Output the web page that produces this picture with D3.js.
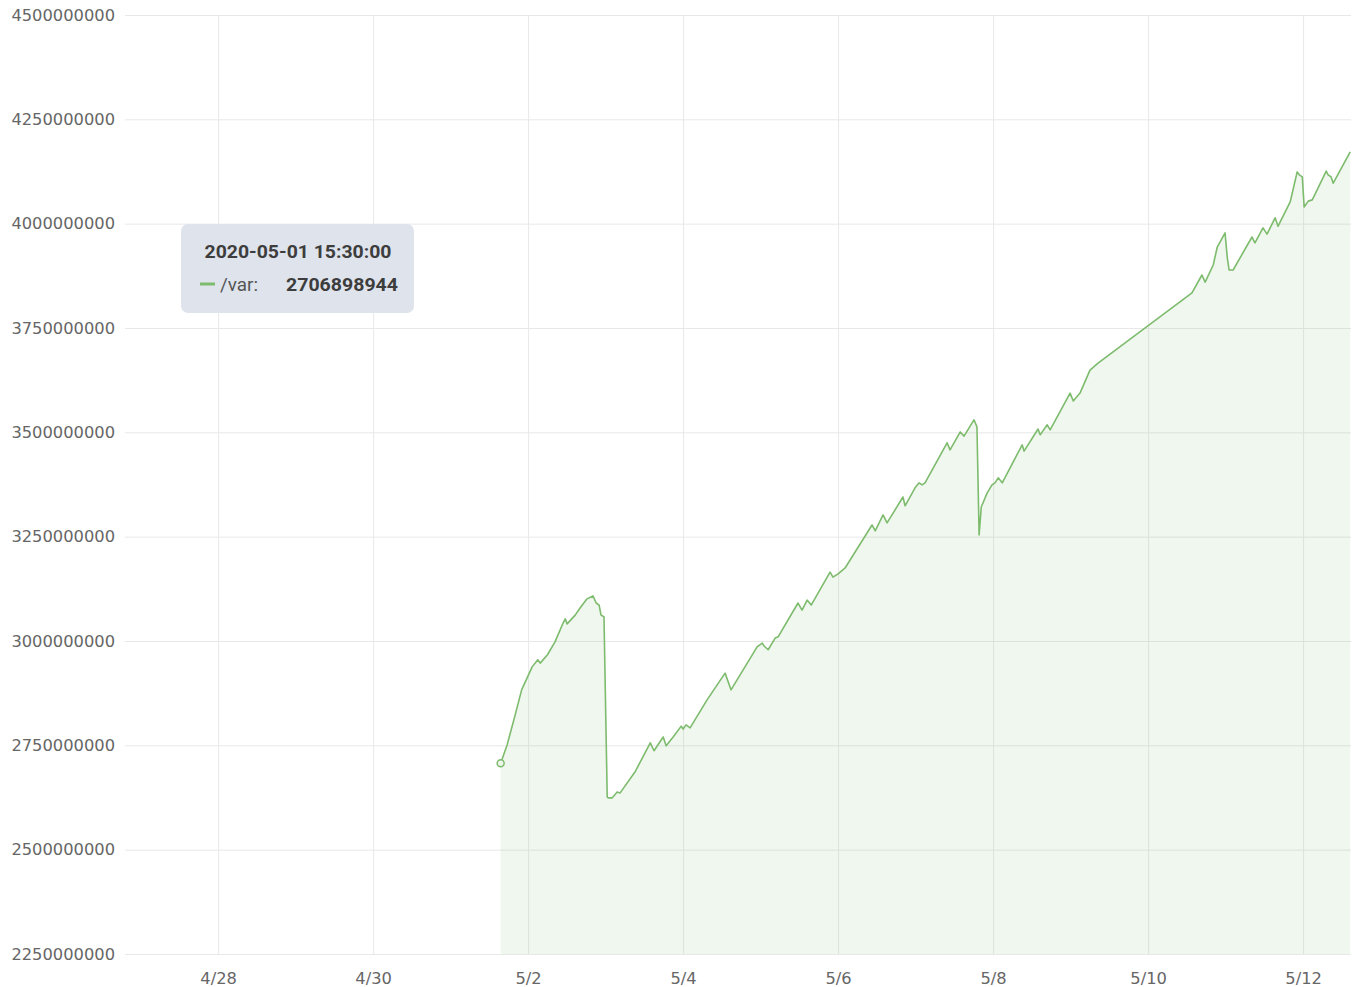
<!DOCTYPE html>
<html>
<head>
<meta charset="utf-8">
<script src="https://cdn.jsdelivr.net/npm/d3@7"></script>
<style>
  body { margin: 0; background: #fff; }
  svg { display: block; }
</style>
</head>
<body>
<svg id="chart" width="1360" height="987"></svg>
<script>
// disk usage of /var
const times = [
  "2020-05-01 15:30", "2020-05-01 17:30", "2020-05-01 20:00", "2020-05-01 22:00",
  "2020-05-02 01:15", "2020-05-02 03:00", "2020-05-02 03:45", "2020-05-02 06:00",
  "2020-05-02 08:20", "2020-05-02 10:50", "2020-05-02 11:30", "2020-05-02 12:05",
  "2020-05-02 14:35", "2020-05-02 16:05", "2020-05-02 18:15", "2020-05-02 20:05",
  "2020-05-02 21:05", "2020-05-02 22:00", "2020-05-02 22:35", "2020-05-02 23:30",
  "2020-05-03 00:30", "2020-05-03 00:50", "2020-05-03 02:00", "2020-05-03 03:35",
  "2020-05-03 04:30", "2020-05-03 09:05", "2020-05-03 13:50", "2020-05-03 15:00",
  "2020-05-03 17:50", "2020-05-03 18:45", "2020-05-03 20:55", "2020-05-03 23:25",
  "2020-05-04 00:00", "2020-05-04 00:55", "2020-05-04 02:10", "2020-05-04 07:25",
  "2020-05-04 13:00", "2020-05-04 14:50", "2020-05-04 22:55", "2020-05-05 00:30",
  "2020-05-05 01:05", "2020-05-05 02:20", "2020-05-05 04:30", "2020-05-05 05:25",
  "2020-05-05 11:35", "2020-05-05 12:50", "2020-05-05 14:25", "2020-05-05 15:40",
  "2020-05-05 21:30", "2020-05-05 22:25", "2020-05-06 00:00", "2020-05-06 02:10",
  "2020-05-06 10:30", "2020-05-06 11:30", "2020-05-06 13:55", "2020-05-06 15:10",
  "2020-05-06 20:05", "2020-05-06 20:45", "2020-05-06 23:50", "2020-05-07 01:05",
  "2020-05-07 02:00", "2020-05-07 02:55", "2020-05-07 09:45", "2020-05-07 10:40",
  "2020-05-07 13:50", "2020-05-07 15:00", "2020-05-07 18:05", "2020-05-07 19:00",
  "2020-05-07 19:40", "2020-05-07 20:20", "2020-05-07 22:10", "2020-05-07 23:40",
  "2020-05-08 00:35", "2020-05-08 01:35", "2020-05-08 02:50", "2020-05-08 09:00",
  "2020-05-08 09:35", "2020-05-08 13:55", "2020-05-08 14:35", "2020-05-08 16:45",
  "2020-05-08 17:40", "2020-05-08 23:50", "2020-05-09 00:50", "2020-05-09 02:55",
  "2020-05-09 06:00", "2020-05-09 08:30", "2020-05-10 13:35", "2020-05-10 16:40",
  "2020-05-10 17:40", "2020-05-10 20:10", "2020-05-10 21:25", "2020-05-10 23:50",
  "2020-05-11 00:30", "2020-05-11 01:05", "2020-05-11 02:20", "2020-05-11 08:10",
  "2020-05-11 09:05", "2020-05-11 11:35", "2020-05-11 12:50", "2020-05-11 15:20",
  "2020-05-11 16:15", "2020-05-11 20:00", "2020-05-11 22:10", "2020-05-11 22:50",
  "2020-05-11 23:45", "2020-05-12 00:20", "2020-05-12 01:35", "2020-05-12 02:50",
  "2020-05-12 07:10", "2020-05-12 07:45", "2020-05-12 08:40", "2020-05-12 09:20",
  "2020-05-12 14:35"
];
const values = [
  2706898944, 2751000000, 2823000000, 2883000000,
  2938000000, 2955000000, 2947000000, 2967000000,
  2998000000, 3043000000, 3053000000, 3041000000,
  3062000000, 3079000000, 3101000000, 3108000000,
  3091000000, 3086000000, 3062000000, 3058000000,
  2626000000, 2624000000, 2624000000, 2638000000,
  2636000000, 2686000000, 2756000000, 2737000000,
  2770000000, 2749000000, 2770000000, 2796000000,
  2789000000, 2799000000, 2792000000, 2859000000,
  2923000000, 2883000000, 2986000000, 2995000000,
  2988000000, 2979000000, 3007000000, 3010000000,
  3091000000, 3074000000, 3098000000, 3086000000,
  3165000000, 3153000000, 3161000000, 3175000000,
  3278000000, 3264000000, 3302000000, 3283000000,
  3345000000, 3324000000, 3367000000, 3379000000,
  3374000000, 3379000000, 3475000000, 3458000000,
  3501000000, 3491000000, 3530000000, 3513000000,
  3254000000, 3321000000, 3355000000, 3374000000,
  3379000000, 3391000000, 3379000000, 3470000000,
  3455000000, 3508000000, 3494000000, 3518000000,
  3506000000, 3594000000, 3575000000, 3594000000,
  3649000000, 3666000000, 3834000000, 3877000000,
  3860000000, 3901000000, 3944000000, 3978000000,
  3920000000, 3889000000, 3889000000, 3968000000,
  3954000000, 3990000000, 3975000000, 4014000000,
  3994000000, 4052000000, 4124000000, 4117000000,
  4112000000, 4040000000, 4054000000, 4057000000,
  4126000000, 4117000000, 4112000000, 4097000000,
  4172000000
];

const xTickDates = ["2020-04-28", "2020-04-30", "2020-05-02", "2020-05-04",
                    "2020-05-06", "2020-05-08", "2020-05-10", "2020-05-12"];
const yTicks = [2250000000, 2500000000, 2750000000, 3000000000, 3250000000,
                3500000000, 3750000000, 4000000000, 4250000000, 4500000000];
const xDomain = ["2020-04-26 19:10", "2020-05-12 14:50"];

const tipTime = "2020-05-01 15:30:00";
const tipLabel = "/var:";
const tipValue = "2706898944";

const parseTime = d3.timeParse("%Y-%m-%d %H:%M");
const parseDay = d3.timeParse("%Y-%m-%d");

const data = times.map((t, i) => ({ date: parseTime(t), value: values[i] }));

const svg = d3.select("#chart");
const margin = { top: 15, right: 9, bottom: 33, left: 125 };
const width = +svg.attr("width") - margin.left - margin.right,
    height = +svg.attr("height") - margin.top - margin.bottom;

const green = "#7dbb6d";

const x = d3.scaleTime()
    .domain(xDomain.map(parseTime))
    .range([0, width]);

const y = d3.scaleLinear()
    .domain([yTicks[0], yTicks[yTicks.length - 1]])
    .range([height, 0]);

const g = svg.append("g")
    .attr("transform", `translate(${margin.left},${margin.top})`);

// grid + y labels
const yAxis = g.append("g")
    .call(d3.axisLeft(y).tickValues(yTicks).tickSize(-width).tickPadding(10).tickFormat(d3.format("d")));
yAxis.select(".domain").remove();
yAxis.selectAll(".tick line").attr("stroke", "#e8e8e8");
yAxis.selectAll(".tick text")
    .attr("fill", "#666")
    .style("font-family", "'DejaVu Sans', sans-serif")
    .style("font-size", "16.3px");

const xAxis = g.append("g")
    .attr("transform", `translate(0,${height})`)
    .call(d3.axisBottom(x).tickValues(xTickDates.map(parseDay))
        .tickSize(-height).tickPadding(18).tickFormat(d3.timeFormat("%-m/%-d")));
xAxis.select(".domain").remove();
xAxis.selectAll(".tick line").attr("stroke", "#e8e8e8");
xAxis.selectAll(".tick text")
    .attr("fill", "#666")
    .style("font-family", "'DejaVu Sans', sans-serif")
    .style("font-size", "16.3px");

// area + line
const area = d3.area()
    .x(d => x(d.date))
    .y0(height)
    .y1(d => y(d.value));

const line = d3.line()
    .x(d => x(d.date))
    .y(d => y(d.value));

g.append("path")
    .datum(data)
    .attr("fill", "rgba(120,180,100,0.11)")
    .attr("d", area);

g.append("path")
    .datum(data)
    .attr("fill", "none")
    .attr("stroke", green)
    .attr("stroke-width", 1.6)
    .attr("stroke-linejoin", "round")
    .attr("d", line);

// hovered point
g.append("circle")
    .attr("cx", x(data[0].date))
    .attr("cy", y(data[0].value))
    .attr("r", 3.5)
    .attr("fill", "#eef5ea")
    .attr("stroke", green)
    .attr("stroke-width", 1.5);

// tooltip
const tip = svg.append("g").attr("transform", "translate(181,224)");
tip.append("rect")
    .attr("width", 233)
    .attr("height", 89)
    .attr("rx", 7)
    .attr("fill", "#dee3ec");
tip.append("text")
    .attr("x", 117)
    .attr("y", 34)
    .attr("text-anchor", "middle")
    .attr("fill", "#3d3d3d")
    .attr("textLength", 187)
    .attr("lengthAdjust", "spacingAndGlyphs")
    .style("font-family", "Roboto, sans-serif")
    .style("font-weight", "bold")
    .style("font-size", "18.5px")
    .text(tipTime);
tip.append("line")
    .attr("x1", 19).attr("x2", 34)
    .attr("y1", 60).attr("y2", 60)
    .attr("stroke", green)
    .attr("stroke-width", 3);
tip.append("text")
    .attr("x", 39)
    .attr("y", 67)
    .attr("fill", "#555")
    .attr("textLength", 38)
    .attr("lengthAdjust", "spacingAndGlyphs")
    .style("font-family", "Roboto, sans-serif")
    .style("font-size", "18px")
    .text(tipLabel);
tip.append("text")
    .attr("x", 217)
    .attr("y", 67)
    .attr("text-anchor", "end")
    .attr("fill", "#3d3d3d")
    .attr("textLength", 112)
    .attr("lengthAdjust", "spacingAndGlyphs")
    .style("font-family", "Roboto, sans-serif")
    .style("font-weight", "bold")
    .style("font-size", "18px")
    .text(tipValue);
</script>
</body>
</html>
